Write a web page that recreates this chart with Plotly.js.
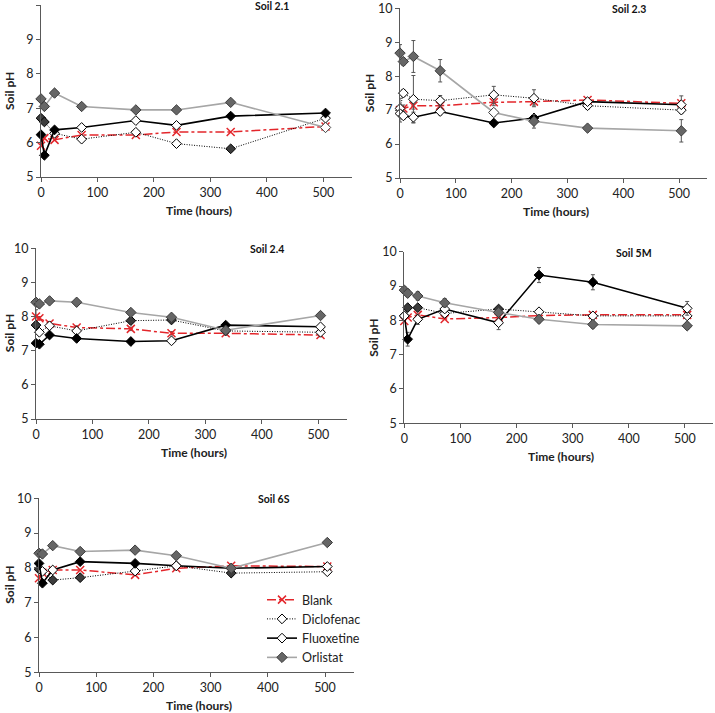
<!DOCTYPE html>
<html>
<head>
<meta charset="utf-8">
<script src="https://cdn.plot.ly/plotly-3.0.1.min.js"></script>
<style>html,body{margin:0;padding:0;background:#fff;}#chart{width:715px;height:713px;}</style>
</head>
<body>
<div id="chart"></div>
<script>
// ---- data ----
const seriesNames = ["Blank", "Diclofenac", "Fluoxetine", "Orlistat"];
const time = [0, 6, 24, 72, 168, 240, 336, 504];
const panelNames = ["Soil 2.1", "Soil 2.3", "Soil 2.4", "Soil 5M", "Soil 6S"];

// Soil 2.1
const blank21 = [5.91, 6.13, 6.08, 6.22, 6.22, 6.31, 6.31, 6.47];
const diclo21 = [6.71, 6.60, 6.27, 6.10, 6.30, 5.97, 5.82, 6.71];
const fluox21 = [6.23, 5.63, 6.37, 6.44, 6.64, 6.50, 6.77, 6.86];
const orli21  = [7.27, 7.05, 7.44, 7.05, 6.95, 6.95, 7.17, 6.44];
// Soil 2.3
const blank23 = [7.00, 7.05, 7.13, 7.13, 7.23, 7.25, 7.30, 7.20];
const diclo23 = [7.05, 7.50, 7.32, 7.28, 7.45, 7.35, 7.13, 7.00];
const fluox23 = [6.90, 6.83, 6.79, 6.96, 6.62, 6.77, 7.25, 7.16];
const orli23  = [8.68, 8.43, 8.58, 8.16, 6.93, 6.67, 6.47, 6.39];
const blank23Err = [0.35, 0.10, 0.10, 0.10, 0.10, 0.10, 0.05, 0.22];
const diclo23Err = [0.10, 0.10, 0.70, 0.15, 0.25, 0.25, 0.10, 0.10];
const fluox23Err = [0.10, 0.10, 0.15, 0.10, 0.05, 0.10, 0.05, 0.05];
const orli23Err  = [0.25, 0.10, 0.47, 0.33, 0.10, 0.20, 0.05, 0.33];
// Soil 2.4
const blank24 = [8.00, 7.95, 7.80, 7.68, 7.64, 7.51, 7.51, 7.46];
const diclo24 = [7.75, 7.54, 7.73, 7.58, 7.88, 7.90, 7.58, 7.54];
const fluox24 = [7.22, 7.19, 7.46, 7.36, 7.27, 7.29, 7.75, 7.70];
const orli24  = [8.42, 8.37, 8.46, 8.42, 8.12, 7.98, 7.60, 8.03];
const blank24Err = [0.20, 0.05, 0.05, 0.05, 0.05, 0.05, 0.05, 0.05];
// Soil 5M
const blank5M = [7.98, 8.08, 8.16, 8.04, 8.08, 8.14, 8.16, 8.16];
const diclo5M = [8.13, 8.37, 8.37, 8.20, 8.33, 8.25, 8.13, 8.13];
const fluox5M = [8.13, 7.45, 8.03, 8.33, 7.93, 9.32, 9.11, 8.35];
const orli5M  = [8.88, 8.79, 8.71, 8.51, 8.23, 8.03, 7.88, 7.84];
const fluox5MErr = [0.10, 0.20, 0.15, 0.10, 0.20, 0.22, 0.22, 0.20];
const orli5MErr  = [0.10, 0.10, 0.12, 0.12, 0.08, 0.10, 0.10, 0.10];
// Soil 6S
const blank6S = [7.70, 7.86, 7.94, 7.94, 7.80, 7.99, 8.06, 8.04];
const diclo6S = [7.96, 7.90, 7.65, 7.72, 7.91, 8.06, 7.85, 7.89];
const fluox6S = [8.13, 7.56, 7.94, 8.18, 8.13, 8.06, 7.99, 8.04];
const orli6S  = [8.42, 8.40, 8.64, 8.47, 8.51, 8.35, 7.99, 8.73];

// ---- marker fill codes per point (style): W white, D dark grey, B black, G grey ----
const diclo21Fill = ["D","D","W","W","W","W","D","W"];
const fluox21Fill = ["B","B","B","W","W","W","B","B"];
const orli21Fill  = ["G","G","G","G","G","G","G","W"];
const diclo23Fill = ["W","W","W","W","W","W","W","W"];
const fluox23Fill = ["W","W","W","W","B","B","W","W"];
const orli23Fill  = ["G","G","G","G","W","G","G","G"];
const diclo24Fill = ["D","W","W","W","D","D","W","W"];
const fluox24Fill = ["B","B","B","B","B","W","B","W"];
const orli24Fill  = ["G","G","G","G","G","G","G","G"];
const diclo5MFill = ["W","D","D","W","D","W","W","W"];
const fluox5MFill = ["W","B","W","W","W","B","B","W"];
const orli5MFill  = ["G","G","G","G","G","G","G","G"];
const diclo6SFill = ["D","W","D","D","W","W","D","W"];
const fluox6SFill = ["B","B","W","B","B","W","W","W"];
const orli6SFill  = ["G","G","G","G","G","G","G","G"];

const fillMap = {W: "#ffffff", D: "#3c3c3c", B: "#000000", G: "#666666"};
const RED = "#e3262b";

// panel placement (pixels in 715x713 canvas)
const W = 715, H = 713;
const panels = [
  {x0: 41, x1: 351.5, yt: 5, yb: 177},
  {x0: 400, x1: 707, yt: 8.3, yb: 178},
  {x0: 36, x1: 346.5, yt: 248.3, yb: 419},
  {x0: 404.3, x1: 713, yt: 251.7, yb: 423.3},
  {x0: 39, x1: 353.6, yt: 498.3, yb: 672.3}
];

const panelData = [
  {b: blank21, d: diclo21, f: fluox21, o: orli21, df: diclo21Fill, ff: fluox21Fill, of: orli21Fill},
  {b: blank23, d: diclo23, f: fluox23, o: orli23, df: diclo23Fill, ff: fluox23Fill, of: orli23Fill,
   be: blank23Err, de: diclo23Err, fe: fluox23Err, oe: orli23Err},
  {b: blank24, d: diclo24, f: fluox24, o: orli24, df: diclo24Fill, ff: fluox24Fill, of: orli24Fill, be: blank24Err},
  {b: blank5M, d: diclo5M, f: fluox5M, o: orli5M, df: diclo5MFill, ff: fluox5MFill, of: orli5MFill,
   fe: fluox5MErr, oe: orli5MErr},
  {b: blank6S, d: diclo6S, f: fluox6S, o: orli6S, df: diclo6SFill, ff: fluox6SFill, of: orli6SFill}
];

function err(arr) {
  if (!arr) return undefined;
  return {type: "data", array: arr, visible: true, color: "#555555", thickness: 1, width: 2};
}

const traces = [];
const layout = {
  width: W, height: H,
  margin: {l: 0, r: 0, t: 0, b: 0},
  paper_bgcolor: "#ffffff", plot_bgcolor: "rgba(0,0,0,0)",
  font: {family: "Lato, 'Open Sans', sans-serif", size: 12, color: "#222"},
  showlegend: true,
  legend: {x: 262 / W, y: 1 - 585 / H, xanchor: "left", yanchor: "top",
           bgcolor: "rgba(0,0,0,0)", font: {size: 12.5, color: "#222"},
           tracegroupgap: 0, itemwidth: 30},
  annotations: []
};

panelData.forEach((p, i) => {
  const n = i + 1;
  const xa = "x" + (n === 1 ? "" : n), ya = "y" + (n === 1 ? "" : n);
  const legend = (i === 1);
  traces.push({
    x: time, y: p.b, xaxis: xa, yaxis: ya, name: seriesNames[0], type: "scatter",
    mode: "lines+markers", showlegend: legend, legendgroup: "b", cliponaxis: false,
    line: {color: RED, width: 1.5, dash: "dashdot"},
    marker: {symbol: "x-thin-open", size: 8, color: RED, line: {color: RED, width: 1.5}},
    error_y: err(p.be)
  });
  traces.push({
    x: time, y: p.d, xaxis: xa, yaxis: ya, name: seriesNames[1], type: "scatter",
    mode: "lines+markers", showlegend: legend, legendgroup: "d", cliponaxis: false,
    line: {color: "#000", width: 1, dash: "1px,1.5px"},
    marker: {symbol: "diamond", size: 7.5, color: p.df.map(c => fillMap[c]), line: {color: "#000", width: 1}},
    error_y: err(p.de)
  });
  traces.push({
    x: time, y: p.f, xaxis: xa, yaxis: ya, name: seriesNames[2], type: "scatter",
    mode: "lines+markers", showlegend: legend, legendgroup: "f", cliponaxis: false,
    line: {color: "#000", width: 1.6},
    marker: {symbol: "diamond", size: 7.5, color: p.ff.map(c => fillMap[c]), line: {color: "#000", width: 1}},
    error_y: err(p.fe)
  });
  traces.push({
    x: time, y: p.o, xaxis: xa, yaxis: ya, name: seriesNames[3], type: "scatter",
    mode: "lines+markers", showlegend: legend, legendgroup: "o", cliponaxis: false,
    line: {color: "#a6a6a6", width: 1.6},
    marker: {symbol: "diamond", size: 8, color: p.of.map(c => fillMap[c]), line: {color: "#3a3a3a", width: 1}},
    error_y: err(p.oe)
  });

  const pos = panels[i];
  const axCommon = {showgrid: false, zeroline: false, showline: true, linecolor: "#595959", linewidth: 1,
                    ticks: "outside", ticklen: 4, tickcolor: "#595959", tickfont: {size: 12.5, color: "#222"}};
  layout["xaxis" + (n === 1 ? "" : n)] = Object.assign({}, axCommon, {
    domain: [pos.x0 / W, pos.x1 / W], range: [0, 550], tick0: 0, dtick: 100,
    anchor: ya, fixedrange: true
  });
  layout["yaxis" + (n === 1 ? "" : n)] = Object.assign({}, axCommon, {
    domain: [1 - pos.yb / H, 1 - pos.yt / H], range: [5, 10], tick0: 5, dtick: 1,
    anchor: xa, fixedrange: true
  });

  layout.annotations.push({
    text: "<b>Time (hours)</b>", xref: "paper", yref: "paper", showarrow: false,
    x: (pos.x0 + (pos.x1 - pos.x0) * 280 / 550) / W, y: 1 - (pos.yb + 33) / H,
    xanchor: "center", yanchor: "middle", font: {size: 12, color: "#222"}
  });
  layout.annotations.push({
    text: "<b>Soil pH</b>", xref: "paper", yref: "paper", showarrow: false, textangle: -90,
    x: Math.max(pos.x0 - 31, 9.5) / W, y: 1 - (pos.yt + pos.yb) / 2 / H,
    xanchor: "center", yanchor: "middle", font: {size: 12, color: "#222"}
  });
  layout.annotations.push({
    text: "<b>" + panelNames[i] + "</b>", xref: "paper", yref: "paper", showarrow: false,
    x: (pos.x0 + (pos.x1 - pos.x0) * 410 / 550) / W, y: 1 - (pos.yt + 1) / H,
    xanchor: "center", yanchor: "middle", font: {size: 10.5, color: "#111"}
  });
});

Plotly.newPlot("chart", traces, layout, {staticPlot: true, displayModeBar: false});
</script>
</body>
</html>
